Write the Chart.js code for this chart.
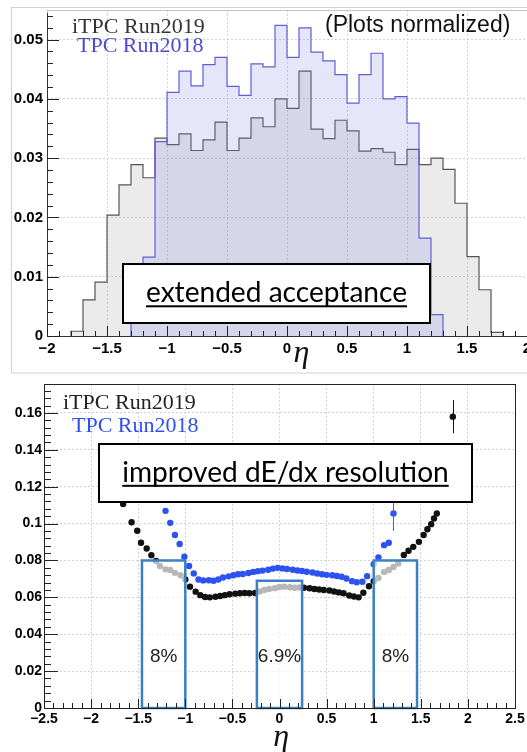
<!DOCTYPE html>
<html>
<head>
<meta charset="utf-8">
<script src="https://cdn.jsdelivr.net/npm/chart.js@4.4.0/dist/chart.umd.min.js"></script>
<style>
html, body { margin: 0; padding: 0; background: #fff; }
#wrap { position: relative; width: 527px; height: 752px; overflow: hidden; }
#acc { position: absolute; left: 0; top: 0; }
#res { position: absolute; left: 0; top: 375px; }
</style>
</head>
<body>
<div id="wrap">
  <canvas id="acc" width="527" height="375"></canvas>
  <canvas id="res" width="527" height="377"></canvas>
</div>
<script>
// normalized eta distributions, 0.1 wide bins
var binWidth = 0.1;
var itpcFirstBin = -1.8;
var itpcCounts = [0.0008, 0.0061, 0.0091, 0.0204, 0.0255, 0.0289, 0.0267, 0.0334, 0.0323, 0.0341,
                  0.0313, 0.0331, 0.0361, 0.0313, 0.0334, 0.0368, 0.0353, 0.0400, 0.0384, 0.0447,
                  0.0349, 0.0333, 0.0364, 0.0346, 0.0312, 0.0316, 0.0310, 0.0289, 0.0315, 0.0289,
                  0.0300, 0.0281, 0.0224, 0.0134, 0.0078, 0.0006];
var tpcFirstBin = -1.3;
var tpcCounts = [0.0040, 0.0133, 0.0328, 0.0411, 0.0447, 0.0422, 0.0458, 0.0470, 0.0421, 0.0406,
                 0.0459, 0.0454, 0.0524, 0.0470, 0.0520, 0.0479, 0.0464, 0.0441, 0.0393, 0.0441,
                 0.0477, 0.0400, 0.0404, 0.0359, 0.0165, 0.0036];

// dE/dx resolution vs eta
var res2019Eta = [-1.66, -1.57, -1.51, -1.47, -1.41, -1.36, -1.31, -1.27, -1.21, -1.16, -1.11, -1.05, -1.00,
                  -0.95, -0.89, -0.84, -0.79, -0.74, -0.68, -0.63, -0.58, -0.53, -0.47, -0.42, -0.37, -0.32,
                  -0.26, -0.21, -0.16, -0.11, -0.05, 0.00, 0.05, 0.11, 0.16, 0.21, 0.26, 0.32, 0.37, 0.42,
                  0.47, 0.53, 0.58, 0.63, 0.68, 0.74, 0.79, 0.84, 0.89, 0.95, 1.00, 1.05, 1.11, 1.16, 1.21,
                  1.26, 1.32, 1.37, 1.42, 1.48, 1.53, 1.57, 1.61, 1.64, 1.67, 1.84];
var res2019 = [0.1106, 0.1007, 0.0961, 0.0896, 0.0865, 0.0829, 0.0797, 0.0770, 0.0752, 0.0748, 0.0733, 0.0720, 0.0697,
               0.0658, 0.0631, 0.0612, 0.0602, 0.0600, 0.0603, 0.0607, 0.0612, 0.0617, 0.0620, 0.0622, 0.0624, 0.0622,
               0.0624, 0.0632, 0.0640, 0.0645, 0.0650, 0.0656, 0.0658, 0.0655, 0.0652, 0.0654, 0.0652, 0.0649, 0.0645, 0.0643,
               0.0640, 0.0637, 0.0632, 0.0627, 0.0622, 0.0610, 0.0605, 0.0600, 0.0625, 0.0660, 0.0688, 0.0705, 0.0738, 0.0748, 0.0765,
               0.0784, 0.0830, 0.0853, 0.0874, 0.0901, 0.0938, 0.0969, 0.0997, 0.1028, 0.1055, 0.158];
var res2018Eta = [-1.21, -1.16, -1.11, -1.06, -1.01, -0.96, -0.91, -0.86, -0.81, -0.75, -0.70, -0.65, -0.60,
                  -0.54, -0.49, -0.44, -0.39, -0.33, -0.28, -0.23, -0.18, -0.12, -0.07, -0.02, 0.03, 0.08,
                  0.14, 0.19, 0.24, 0.29, 0.35, 0.40, 0.45, 0.50, 0.56, 0.61, 0.66, 0.71, 0.77, 0.82, 0.88,
                  0.93, 1.00, 1.05, 1.11, 1.16, 1.21];
var res2018 = [0.1069, 0.1004, 0.0938, 0.0889, 0.0820, 0.0770, 0.0730, 0.0697, 0.0692, 0.0693, 0.0690, 0.0697, 0.0708,
               0.0714, 0.0720, 0.0725, 0.0727, 0.0732, 0.0738, 0.0742, 0.0745, 0.0750, 0.0756, 0.0760, 0.0757, 0.0754,
               0.0750, 0.0746, 0.0743, 0.0739, 0.0735, 0.0729, 0.0725, 0.0722, 0.0720, 0.0716, 0.0712, 0.0702, 0.0688, 0.0682, 0.0685,
               0.0715, 0.0780, 0.0817, 0.0883, 0.0896, 0.1055];
// error bars shown only on a couple of edge points
var err2019Eta = [1.84];
var err2019 = [0.009];
var err2018Eta = [1.21];
var err2018 = [0.0095];

// eta windows with the quoted resolution
var winLo = [-1.46, -0.24, 1.0];
var winHi = [-1.0, 0.24, 1.46];
var winRes = [0.08, 0.069, 0.08];

Chart.defaults.font.family = "'Liberation Sans', Arial, sans-serif";
Chart.defaults.color = '#000';

function tickText(v) {
  return String(+v.toFixed(3)).replace('-', '\u2212');
}

function histPoints(first, counts) {
  var pts = [{x: first, y: 0}];
  for (var i = 0; i < counts.length; i++) {
    pts.push({x: +(first + i * binWidth).toFixed(2), y: counts[i]});
  }
  pts.push({x: +(first + counts.length * binWidth).toFixed(2), y: 0});
  return pts;
}

function xyPoints(xs, ys) {
  return xs.map(function(x, i) { return {x: x, y: ys[i]}; });
}

function scaleOpts(min, max, step, fontSize, pad, fit) {
  return {
    type: 'linear', min: min, max: max,
    ticks: {
      stepSize: step, includeBounds: false, autoSkip: false, maxRotation: 0,
      padding: pad, color: '#000',
      font: {family: "'Liberation Sans', Arial, sans-serif", size: fontSize, weight: 'bold'},
      callback: function(v) { return tickText(v); }
    },
    grid: {color: '#d2d2d2', lineWidth: 1, drawTicks: false},
    border: {display: false, dash: [2, 2]},
    afterFit: fit
  };
}

// ROOT style ticks drawn on the inside of the frame
function innerTicks(chart, t) {
  var ctx = chart.ctx, a = chart.chartArea, xs = chart.scales.x, ys = chart.scales.y;
  ctx.save();
  ctx.strokeStyle = '#222';
  ctx.lineWidth = 1;
  ctx.beginPath();
  for (var i = 0; i * t.yStep / 5 <= ys.max + 1e-9; i++) {
    var y = Math.round(ys.getPixelForValue(i * t.yStep / 5)) + 0.5;
    var len = i % 5 === 0 ? t.yMajor : t.yMinor;
    ctx.moveTo(a.left, y);
    ctx.lineTo(a.left + len, y);
  }
  for (var j = 0; xs.min + j * t.xStep / 5 <= xs.max + 1e-9; j++) {
    var x = Math.round(xs.getPixelForValue(xs.min + j * t.xStep / 5)) + 0.5;
    var l = j % 5 === 0 ? t.xMajor : t.xMinor;
    ctx.moveTo(x, a.bottom);
    ctx.lineTo(x, a.bottom - l);
  }
  ctx.stroke();
  ctx.restore();
}

function noteBox(chart, x0, x1, y0, y1, text, fill) {
  var ctx = chart.ctx, xs = chart.scales.x, ys = chart.scales.y;
  var L = Math.round(xs.getPixelForValue(x0)), R = Math.round(xs.getPixelForValue(x1));
  var T = Math.round(ys.getPixelForValue(y1)), B = Math.round(ys.getPixelForValue(y0));
  ctx.save();
  ctx.fillStyle = '#fff';
  ctx.fillRect(L, T, R - L, B - T);
  ctx.strokeStyle = '#000';
  ctx.lineWidth = 2;
  ctx.strokeRect(L, T, R - L, B - T);
  ctx.font = '30px Lato';
  var size = 30 * fill * (R - L) / ctx.measureText(text).width;
  ctx.font = size.toFixed(1) + 'px Lato';
  var w = ctx.measureText(text).width;
  var left = (L + R) / 2 - w / 2, base = (T + B) / 2 + size * 0.32;
  ctx.fillStyle = '#000';
  ctx.textAlign = 'left';
  ctx.textBaseline = 'alphabetic';
  ctx.fillText(text, left, base);
  ctx.fillRect(left, base + size * 0.1, w, 2);
  ctx.restore();
}

function label(ctx, text, x, y, font, color) {
  ctx.save();
  ctx.font = font;
  ctx.fillStyle = color;
  ctx.textAlign = 'left';
  ctx.textBaseline = 'alphabetic';
  ctx.fillText(text, x, y);
  ctx.restore();
}

// upper panel: eta acceptance
new Chart(document.getElementById('acc'), {
  type: 'line',
  data: {
    datasets: [{
      label: 'TPC Run2018',
      data: histPoints(tpcFirstBin, tpcCounts),
      stepped: 'before',
      borderColor: '#5f5fd4',
      borderWidth: 1.2,
      backgroundColor: 'rgba(130,130,235,0.2)',
      fill: 'origin',
      pointRadius: 0
    }, {
      label: 'iTPC Run2019',
      data: histPoints(itpcFirstBin, itpcCounts),
      stepped: 'before',
      borderColor: '#555',
      borderWidth: 1.2,
      backgroundColor: 'rgba(150,150,150,0.19)',
      fill: 'origin',
      pointRadius: 0
    }]
  },
  options: {
    responsive: false,
    animation: false,
    events: [],
    layout: {padding: {top: 10, right: 0, left: 0, bottom: 0}},
    plugins: {legend: {display: false}, tooltip: {enabled: false}},
    scales: {
      x: scaleOpts(-2, 2, 0.5, 15, 4, function(s) { s.height = 39; s.paddingLeft = 0; s.paddingRight = 0; }),
      y: scaleOpts(0, 0.055, 0.01, 15, 4, function(s) { s.width = 47; s.paddingTop = 0; s.paddingBottom = 0; })
    }
  },
  plugins: [{
    id: 'accDecor',
    afterDraw: function(chart) {
      var ctx = chart.ctx, a = chart.chartArea, xs = chart.scales.x;
      ctx.save();
      ctx.strokeStyle = '#d2d2d2';
      ctx.lineWidth = 1;
      ctx.strokeRect(11.5, 7.5, 560, 365.5);
      ctx.strokeStyle = '#c4c4c4';
      ctx.strokeRect(a.left + 0.5, a.top + 0.5, a.right - a.left, a.bottom - a.top);
      ctx.strokeStyle = '#333';
      ctx.beginPath();
      ctx.moveTo(a.left + 0.5, a.top + 3);
      ctx.lineTo(a.left + 0.5, a.bottom + 0.5);
      ctx.lineTo(a.right, a.bottom + 0.5);
      ctx.stroke();
      ctx.restore();
      innerTicks(chart, {yStep: 0.01, xStep: 0.5, yMajor: 12, yMinor: 6, xMajor: 10, xMinor: 5});
      label(ctx, 'iTPC Run2019', 72, 33, '22px "Liberation Serif"', '#333');
      label(ctx, 'TPC Run2018', 77, 52, '22px "Liberation Serif"', '#4b4bd2');
      label(ctx, '(Plots normalized)', 325, 32, '23px "Liberation Sans"', '#111');
      noteBox(chart, -1.364, 1.194, 0.0022, 0.0121, 'extended acceptance', 0.85);
      label(ctx, '\u03b7', xs.getPixelForValue(0.13) - 9, a.bottom + 26, 'italic 32px "Liberation Serif"', '#111');
    }
  }]
});

// lower panel: dE/dx resolution
new Chart(document.getElementById('res'), {
  type: 'scatter',
  data: {
    datasets: [{
      label: 'iTPC Run2019',
      data: xyPoints(res2019Eta, res2019),
      backgroundColor: '#111',
      borderWidth: 0,
      pointRadius: 3.2
    }, {
      label: 'TPC Run2018',
      data: xyPoints(res2018Eta, res2018),
      backgroundColor: '#2d52f2',
      borderWidth: 0,
      pointRadius: 3.2
    }]
  },
  options: {
    responsive: false,
    animation: false,
    events: [],
    layout: {padding: {top: 9, right: 12, left: 0, bottom: 0}},
    plugins: {legend: {display: false}, tooltip: {enabled: false}},
    scales: {
      x: scaleOpts(-2.5, 2.5, 0.5, 14, 3, function(s) { s.height = 44; s.paddingLeft = 0; s.paddingRight = 0; }),
      y: scaleOpts(0, 0.1757, 0.02, 14, 2, function(s) { s.width = 44; s.paddingTop = 0; s.paddingBottom = 0; })
    }
  },
  plugins: [{
    id: 'resDecor',
    afterDatasetsDraw: function(chart) {
      var ctx = chart.ctx, xs = chart.scales.x, ys = chart.scales.y;
      // error bars
      function bars(etas, errs, series, seriesEta, color) {
        ctx.strokeStyle = color;
        ctx.lineWidth = 1;
        etas.forEach(function(e, i) {
          var v = series[seriesEta.indexOf(e)];
          var x = Math.round(xs.getPixelForValue(e)) + 0.5;
          ctx.beginPath();
          ctx.moveTo(x, ys.getPixelForValue(v - errs[i]));
          ctx.lineTo(x, ys.getPixelForValue(v + errs[i]));
          ctx.stroke();
        });
      }
      ctx.save();
      bars(err2019Eta, err2019, res2019, res2019Eta, '#111');
      bars(err2018Eta, err2018, res2018, res2018Eta, '#666');
      // eta windows
      ctx.lineWidth = 2.5;
      ctx.strokeStyle = '#3c80c4';
      ctx.font = '19px "Liberation Sans"';
      ctx.textAlign = 'center';
      ctx.textBaseline = 'middle';
      for (var i = 0; i < winRes.length; i++) {
        var L = xs.getPixelForValue(winLo[i]), R = xs.getPixelForValue(winHi[i]);
        var T = ys.getPixelForValue(winRes[i]), B = ys.getPixelForValue(0);
        ctx.fillStyle = 'rgba(255,255,255,0.7)';
        ctx.fillRect(L, T, R - L, B - T);
        ctx.strokeRect(L, T, R - L, B - T);
        ctx.fillStyle = '#222';
        ctx.fillText(+(winRes[i] * 100).toFixed(1) + '%', (L + R) / 2, ys.getPixelForValue(0.028));
      }
      ctx.restore();
    },
    afterDraw: function(chart) {
      var ctx = chart.ctx, a = chart.chartArea, xs = chart.scales.x;
      ctx.save();
      ctx.strokeStyle = '#222';
      ctx.lineWidth = 1;
      ctx.strokeRect(a.left + 0.5, a.top + 0.5, a.right - a.left, a.bottom - a.top);
      ctx.restore();
      innerTicks(chart, {yStep: 0.02, xStep: 0.5, yMajor: 14, yMinor: 7, xMajor: 9, xMinor: 5});
      label(ctx, 'iTPC Run2019', 63, 34, '22px "Liberation Serif"', '#222');
      label(ctx, 'TPC Run2018', 72, 57, '22px "Liberation Serif"', '#2d50ee');
      noteBox(chart, -1.92, 2.044, 0.1118, 0.1431, 'improved dE/dx resolution', 0.877);
      label(ctx, '\u03b7', xs.getPixelForValue(0.03) - 9, a.bottom + 38, 'italic 32px "Liberation Serif"', '#111');
    }
  }]
});
</script>
</body>
</html>
